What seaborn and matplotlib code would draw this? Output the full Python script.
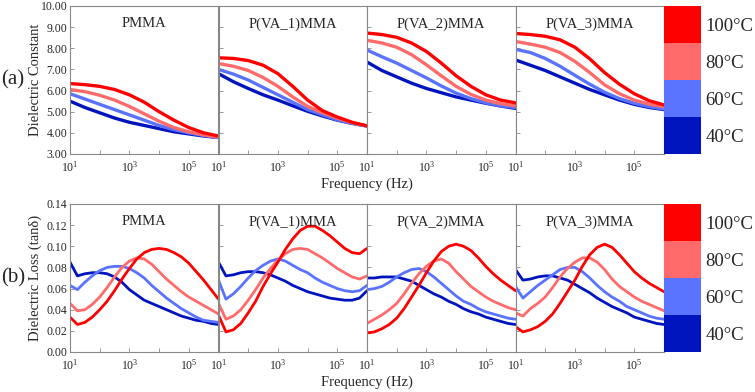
import numpy as np
import pandas as pd
import matplotlib.pyplot as plt
import seaborn as sns
from matplotlib.colors import ListedColormap

# sample names, temperatures and colours
samples = ['PMMA', 'P(VA_1)MMA', 'P(VA_2)MMA', 'P(VA_3)MMA']
temps = ['40°C', '60°C', '80°C', '100°C']
colors = ['#0014BE', '#5A73FF', '#FF6B6B', '#FF0000']

# log10(frequency) grids
logf_eps = [1.0, 1.5, 2.0, 2.5, 3.0, 3.5, 4.0, 4.5, 5.0, 5.5, 6.0]
logf_loss = [1.0, 1.25, 1.5, 1.75, 2.0, 2.25, 2.5, 2.75, 3.0, 3.25, 3.5,
             3.75, 4.0, 4.25, 4.5, 4.75, 5.0, 5.25, 5.5, 5.75, 6.0]

# dielectric constant, one list per temperature (40, 60, 80, 100 C)
eps_pmma = [
    [5.50, 5.20, 4.95, 4.70, 4.50, 4.35, 4.20, 4.05, 3.95, 3.85, 3.78],
    [5.85, 5.60, 5.35, 5.10, 4.85, 4.60, 4.35, 4.15, 4.00, 3.88, 3.78],
    [6.05, 5.95, 5.78, 5.55, 5.25, 4.90, 4.55, 4.25, 4.05, 3.90, 3.80],
    [6.33, 6.28, 6.20, 6.05, 5.80, 5.45, 5.00, 4.60, 4.25, 4.00, 3.85],
]
eps_va1 = [
    [6.80, 6.42, 6.10, 5.80, 5.55, 5.28, 5.02, 4.80, 4.60, 4.45, 4.33],
    [7.00, 6.78, 6.50, 6.15, 5.80, 5.45, 5.10, 4.85, 4.62, 4.45, 4.32],
    [7.28, 7.15, 6.95, 6.62, 6.20, 5.70, 5.25, 4.95, 4.70, 4.48, 4.32],
    [7.55, 7.52, 7.42, 7.20, 6.80, 6.20, 5.55, 5.05, 4.75, 4.50, 4.33],
]
eps_va2 = [
    [7.35, 6.95, 6.65, 6.35, 6.10, 5.90, 5.70, 5.55, 5.40, 5.27, 5.16],
    [7.92, 7.60, 7.30, 6.95, 6.60, 6.22, 5.88, 5.62, 5.42, 5.28, 5.20],
    [8.38, 8.25, 8.05, 7.70, 7.22, 6.70, 6.20, 5.82, 5.55, 5.38, 5.28],
    [8.72, 8.65, 8.52, 8.25, 7.85, 7.30, 6.70, 6.20, 5.80, 5.55, 5.42],
]
eps_va3 = [
    [7.45, 7.20, 6.95, 6.65, 6.35, 6.05, 5.80, 5.55, 5.35, 5.20, 5.10],
    [7.95, 7.80, 7.52, 7.15, 6.72, 6.30, 5.92, 5.62, 5.40, 5.24, 5.13],
    [8.32, 8.20, 8.05, 7.80, 7.38, 6.85, 6.27, 5.85, 5.55, 5.36, 5.24],
    [8.70, 8.65, 8.57, 8.40, 8.05, 7.50, 6.85, 6.30, 5.85, 5.52, 5.32],
]

# dielectric loss tan(delta), one list per temperature (40, 60, 80, 100 C)
loss_pmma = [
    [0.085, 0.072, 0.074, 0.075, 0.075, 0.074, 0.071, 0.066, 0.059, 0.054, 0.049,
     0.046, 0.043, 0.040, 0.037, 0.034, 0.032, 0.030, 0.029, 0.027, 0.026],
    [0.063, 0.059, 0.066, 0.072, 0.077, 0.080, 0.081, 0.081, 0.079, 0.075, 0.070,
     0.063, 0.057, 0.051, 0.046, 0.041, 0.037, 0.033, 0.030, 0.029, 0.028],
    [0.046, 0.039, 0.040, 0.045, 0.052, 0.061, 0.071, 0.080, 0.086, 0.089, 0.088,
     0.083, 0.076, 0.069, 0.063, 0.057, 0.052, 0.048, 0.044, 0.040, 0.036],
    [0.033, 0.026, 0.028, 0.033, 0.040, 0.048, 0.058, 0.069, 0.079, 0.088, 0.094,
     0.097, 0.098, 0.097, 0.094, 0.090, 0.084, 0.076, 0.068, 0.059, 0.050],
]
loss_va1 = [
    [0.085, 0.072, 0.073, 0.075, 0.076, 0.076, 0.075, 0.073, 0.070, 0.067, 0.063,
     0.060, 0.057, 0.055, 0.053, 0.051, 0.050, 0.049, 0.049, 0.051, 0.058],
    [0.068, 0.050, 0.055, 0.062, 0.070, 0.077, 0.082, 0.086, 0.088, 0.086, 0.082,
     0.078, 0.075, 0.070, 0.066, 0.063, 0.060, 0.058, 0.057, 0.058, 0.063],
    [0.046, 0.031, 0.034, 0.040, 0.049, 0.059, 0.070, 0.079, 0.087, 0.093, 0.097,
     0.098, 0.097, 0.093, 0.089, 0.084, 0.079, 0.075, 0.071, 0.069, 0.072],
    [0.035, 0.019, 0.021, 0.027, 0.037, 0.048, 0.062, 0.074, 0.085, 0.097, 0.107,
     0.115, 0.119, 0.119, 0.115, 0.110, 0.104, 0.098, 0.094, 0.093, 0.098],
]
loss_va2 = [
    [0.070, 0.070, 0.071, 0.071, 0.071, 0.069, 0.067, 0.063, 0.059, 0.055, 0.052,
     0.048, 0.045, 0.041, 0.038, 0.036, 0.033, 0.031, 0.029, 0.027, 0.026],
    [0.059, 0.060, 0.062, 0.066, 0.071, 0.075, 0.078, 0.079, 0.076, 0.071, 0.065,
     0.059, 0.053, 0.048, 0.045, 0.041, 0.038, 0.036, 0.034, 0.032, 0.031],
    [0.027, 0.031, 0.035, 0.040, 0.046, 0.055, 0.065, 0.074, 0.081, 0.086, 0.088,
     0.084, 0.076, 0.069, 0.062, 0.057, 0.052, 0.048, 0.045, 0.042, 0.040],
    [0.018, 0.019, 0.022, 0.026, 0.032, 0.041, 0.052, 0.063, 0.075, 0.086, 0.095,
     0.100, 0.102, 0.100, 0.096, 0.089, 0.081, 0.074, 0.068, 0.063, 0.058],
]
loss_va3 = [
    [0.078, 0.068, 0.069, 0.071, 0.072, 0.072, 0.070, 0.068, 0.064, 0.060, 0.056,
     0.051, 0.047, 0.043, 0.040, 0.037, 0.033, 0.031, 0.029, 0.027, 0.026],
    [0.062, 0.051, 0.057, 0.063, 0.068, 0.073, 0.078, 0.080, 0.080, 0.076, 0.070,
     0.063, 0.057, 0.052, 0.048, 0.043, 0.040, 0.037, 0.034, 0.032, 0.031],
    [0.037, 0.034, 0.041, 0.046, 0.052, 0.061, 0.071, 0.079, 0.085, 0.089, 0.089,
     0.085, 0.078, 0.069, 0.062, 0.057, 0.052, 0.048, 0.045, 0.042, 0.039],
    [0.024, 0.019, 0.021, 0.024, 0.029, 0.036, 0.046, 0.057, 0.068, 0.081, 0.092,
     0.099, 0.102, 0.099, 0.092, 0.084, 0.076, 0.070, 0.065, 0.061, 0.057],
]

eps_all = [eps_pmma, eps_va1, eps_va2, eps_va3]
loss_all = [loss_pmma, loss_va1, loss_va2, loss_va3]


def to_frame(logf, series):
    rows = []
    for t, vals in zip(temps, series):
        for lf, v in zip(logf, vals):
            rows.append({'freq': 10 ** lf, 'value': v, 'temp': t})
    return pd.DataFrame(rows)


sns.set_style('white')
plt.rcParams['font.family'] = ['Liberation Serif', 'DejaVu Serif']
plt.rcParams['mathtext.fontset'] = 'custom'
plt.rcParams['mathtext.rm'] = 'Liberation Serif'
plt.rcParams['mathtext.it'] = 'Liberation Serif:italic'

fig = plt.figure(figsize=(7.55, 3.92), dpi=100)
W, H = 755.0, 392.0
left0, pw = 70, 148.5
rows_px = [(6, 154), (204, 352)]
spine_col = '#888888'

palette = dict(zip(temps, colors))
row_data = [(eps_all, logf_eps, (3, 10), np.arange(3, 10.01, 1.0),
             'Dielectric Constant', '(a)', 2.4),
            (loss_all, logf_loss, (0, 0.14), np.arange(0, 0.141, 0.02),
             'Dielectric Loss (tanδ)', '(b)', 2.0)]

for r, (data_all, logf, ylim, yticks, ylabel, tag, lw) in enumerate(row_data):
    top, bot = rows_px[r]
    for i, name in enumerate(samples):
        ax = fig.add_axes([(left0 + i * pw) / W, 1 - bot / H, pw / W, (bot - top) / H])
        df = to_frame(logf, data_all[i])
        sns.lineplot(data=df, x='freq', y='value', hue='temp', palette=palette,
                     linewidth=lw, legend=False, ax=ax)
        ax.set_xscale('log')
        ax.set_xlim(10, 1e6)
        ax.set_ylim(*ylim)
        ax.set_xticks([10, 1e2, 1e3, 1e4, 1e5, 1e6])
        ax.set_xticklabels(['$10^1$', '', '$10^3$', '', '$10^5$', ''])
        ax.xaxis.set_minor_locator(plt.NullLocator())
        ax.set_yticks(yticks)
        if i == 0:
            ax.set_yticklabels(['%.2f' % v for v in yticks])
            ax.set_ylabel(ylabel, fontsize=10.5)
            ax.yaxis.set_label_coords(-0.19, 0.5)
        else:
            ax.set_yticklabels([])
            ax.set_ylabel('')
        ax.set_xlabel('')
        ax.tick_params(direction='in', length=3, width=0.6, color=spine_col,
                       labelsize=8.5, left=True, bottom=True)
        ax.tick_params(axis='y', pad=2)
        ax.tick_params(axis='x', pad=4)
        for s in ax.spines.values():
            s.set_color(spine_col)
            s.set_linewidth(0.8)
        ax.text(0.5, 0.88, name, transform=ax.transAxes, ha='center', va='center',
                fontsize=10.5)

    # colour key on the right
    cax = fig.add_axes([664 / W, 1 - bot / H, 37 / W, (bot - top) / H])
    key = pd.DataFrame({'k': [3, 2, 1, 0]}, index=temps[::-1])
    sns.heatmap(key, cmap=ListedColormap(colors), cbar=False, ax=cax,
                xticklabels=False, yticklabels=True)
    cax.yaxis.tick_right()
    cax.tick_params(axis='y', length=0, labelsize=13.5, pad=3, rotation=0)
    cax.set_ylabel('')

    fig.text((left0 + 2 * pw) / W, 1 - (bot + 30) / H, 'Frequency (Hz)',
             ha='center', va='center', fontsize=10.5)
    fig.text(1 / W, 1 - ((top + bot) / 2) / H, tag, ha='left', va='center',
             fontsize=15)

fig.savefig('out.png', dpi=100)
